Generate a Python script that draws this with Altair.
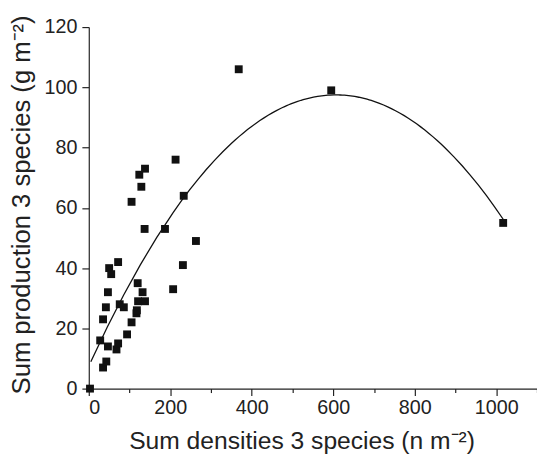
import altair as alt
import pandas as pd

density = [3, 28, 35, 35, 42, 43, 47, 47, 50, 55, 72, 68, 72, 76, 86, 94, 105, 105,
           117, 118, 121, 120, 124, 129, 132, 137, 138, 138, 187, 207, 213, 231, 233,
           263, 368, 595, 1017]
production = [0, 16, 23, 7, 27, 9, 32, 14, 40, 38, 42, 13, 15, 28, 27, 18, 22, 62,
              25, 26, 29, 35, 71, 67, 32, 53, 73, 29, 53, 33, 76, 41, 64,
              49, 106, 99, 55]

x_ticks = [0, 100, 200, 300, 400, 500, 600, 700, 800, 900, 1000, 1100]
y_ticks = [0, 10, 20, 30, 40, 50, 60, 70, 80, 90, 100, 110, 120]

df = pd.DataFrame({"x": density, "y": production})

FONT = "Liberation Sans"

x_enc = alt.X("x:Q", scale=alt.Scale(domain=[0, 1100], nice=False, zero=False),
              axis=alt.Axis(values=x_ticks, format="d",
                            labelExpr="datum.value % 200 === 0 ? datum.label : ''",
                            tickSize={"condition": {"test": "datum.value % 200 === 0", "value": 7}, "value": 4},
                            title="Sum densities 3 species (n m⁻²)",
                            labelPadding=2, titlePadding=12, titleX=216))
y_enc = alt.Y("y:Q", scale=alt.Scale(domain=[0, 120], nice=False),
              axis=alt.Axis(values=y_ticks, format="d",
                            labelExpr="datum.value % 20 === 0 ? datum.label : ''",
                            tickSize={"condition": {"test": "datum.value % 20 === 0", "value": 7}, "value": 4},
                            title="Sum production 3 species (g m⁻²)",
                            labelPadding=5, titlePadding=10, titleY=180))

points = alt.Chart(df).mark_square(size=64, color="#111111", opacity=1).encode(x=x_enc, y=y_enc)

curve = alt.Chart(df).transform_regression(
    "x", "y", method="poly", order=2, extent=[5, 1017]
).mark_line(color="#111111", strokeWidth=1.3).encode(x="x:Q", y="y:Q")

chart = alt.layer(curve, points).properties(
    width=455, height=367,
    autosize=alt.AutoSizeParams(type="none"),
    padding={"left": 82, "top": 16, "right": 0, "bottom": 63},
).configure_view(stroke=None).configure_axis(
    grid=False, domainColor="#222222", tickColor="#222222", labelColor="#222222",
    titleColor="#222222", labelFont=FONT, titleFont=FONT, labelFontSize=20,
    titleFontSize=25, titleFontWeight="normal", domainWidth=1.2, tickWidth=1.2,
).configure_axisY(titleFontSize=26)

chart.save("out.html", embed_options={"renderer": "svg", "actions": False})
